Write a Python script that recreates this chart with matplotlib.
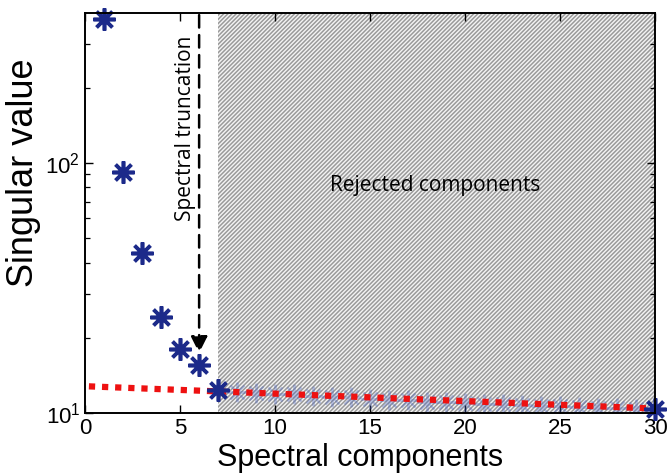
import matplotlib
matplotlib.use("Agg")
import matplotlib.pyplot as plt
from matplotlib.patches import Rectangle

# ---- data ----
components = [1, 2, 3, 4, 5, 6, 7]
singular_kept = [376, 92, 43.5, 24.3, 18.1, 15.6, 12.4]
noise_components = list(range(8, 30))
singular_noise = [12.2, 12.0, 11.9, 11.9, 11.7, 11.6, 11.6, 11.4, 11.3, 11.3, 11.1,
                  11.1, 11.0, 10.9, 10.9, 10.8, 10.7, 10.7, 10.6, 10.5, 10.5, 10.4]
last_component = [30]
singular_last = [10.4]
fit_x = [0.2, 29.8]
fit_y = [12.8, 10.45]
truncation_x = 6
truncation_top = 390
truncation_tip = 17.4
reject_start = 7
reject_end = 30
xticks = [0, 5, 10, 15, 20, 25, 30]
xlim = (0, 30)
ylim = (10, 398)

plt.rcParams['hatch.linewidth'] = 1.1
plt.rcParams['hatch.color'] = '#9a9a9a'
plt.rcParams['mathtext.fontset'] = 'custom'
plt.rcParams['mathtext.rm'] = 'Liberation Sans'
plt.rcParams['mathtext.it'] = 'Liberation Sans'

fig = plt.figure(figsize=(6.7, 4.76), dpi=100)
ax = fig.add_axes([0.127, 0.132, 0.851, 0.841])
ax.set_yscale('log')
ax.set_xlim(*xlim)
ax.set_ylim(*ylim)

# hatched rejected region
ax.add_patch(Rectangle((reject_start, ylim[0]), reject_end - reject_start, ylim[1] - ylim[0],
                       facecolor='#f4f4f4', edgecolor='#9a9a9a', hatch='////////', lw=0, zorder=1))

star = (8, 2, 0)
navy = '#1c2a8a'
ax.plot(noise_components, singular_noise, linestyle='none', marker=star, markersize=14,
        mew=1.4, color='#4a64c0', alpha=0.35, zorder=2)
ax.plot(components, singular_kept, linestyle='none', marker=star, markersize=16,
        mew=2.6, color=navy, zorder=4, clip_on=False)
ax.plot(last_component, singular_last, linestyle='none', marker=star, markersize=16,
        mew=2.6, color=navy, zorder=4, clip_on=False)

ax.plot(fit_x, fit_y, linestyle=(0, (1, 1.1)), color='#ee1111', lw=4.5, zorder=3)

# truncation arrow
ax.annotate('', xy=(truncation_x, truncation_tip), xytext=(truncation_x, truncation_top),
            arrowprops=dict(arrowstyle='-|>,head_width=0.5,head_length=1.0',
                            linestyle=(0, (5, 3)), lw=1.8, color='black',
                            shrinkA=0, shrinkB=0), zorder=5)

ax.text(5.3, 137, 'Spectral truncation', rotation=90, ha='center', va='center',
        fontsize=15, family=['Open Sans', 'DejaVu Sans'], zorder=6)
ax.text(18.4, 81, 'Rejected components', ha='center', va='center',
        fontsize=15, family=['Open Sans', 'DejaVu Sans'], zorder=6)

ax.set_xticks(xticks)
ax.tick_params(which='both', direction='in', top=True, right=True, labelsize=16)
ax.tick_params(which='major', length=6, width=1.0)
ax.tick_params(which='minor', length=3.5, width=0.9)
ax.set_xticklabels([str(t) for t in xticks])
for lab in ax.get_xticklabels() + ax.get_yticklabels():
    lab.set_family(['Liberation Sans', 'DejaVu Sans'])
for s in ax.spines.values():
    s.set_linewidth(1.4)
    s.set_zorder(7)

ax.set_xlabel('Spectral components', fontsize=22, family=['Liberation Sans', 'DejaVu Sans'])
ax.set_ylabel('Singular value', fontsize=26, family=['Liberation Sans', 'DejaVu Sans'])
ax.xaxis.set_label_coords(0.482, -0.075, transform=ax.transAxes)
ax.yaxis.set_label_coords(-0.077, 0.6, transform=ax.transAxes)
ax.xaxis.label.set_va('top')

fig.savefig('out.png', dpi=100)
